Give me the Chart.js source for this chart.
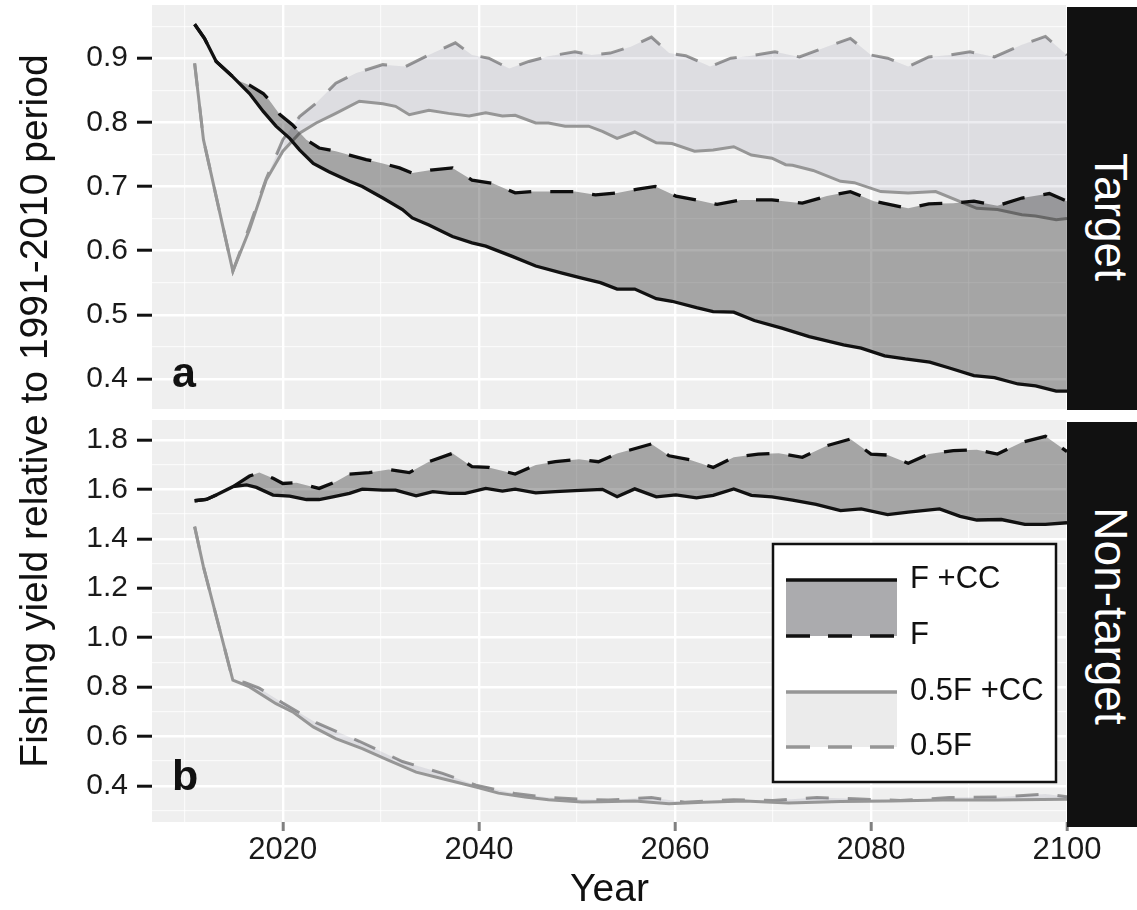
<!DOCTYPE html>
<html>
<head>
<meta charset="utf-8">
<script src="https://cdn.jsdelivr.net/npm/chart.js@4.4.1/dist/chart.umd.min.js"></script>
<style>
  body { margin: 0; background: #fff; }
  #fig { position: relative; width: 1137px; height: 910px; font-family: "Liberation Sans", Arial, Helvetica, sans-serif; color: #111; }
  #cTarget { position: absolute; left: 0; top: 0; }
  #cNon { position: absolute; left: 0; top: 414px; }
  #ytitle { position: absolute; left: -346.5px; top: 389px; width: 760px; height: 44px; line-height: 44px;
            font-size: 39px; text-align: center; white-space: nowrap; transform: rotate(-90deg); }
  .strip { position: absolute; left: 1067px; width: 70px; background: #111; }
  .strip span { position: absolute; left: -106px; width: 300px; height: 50px; line-height: 50px; font-size: 46px;
                color: #fff; text-align: center; white-space: nowrap; transform: rotate(90deg); }
</style>
</head>
<body>
<div id="fig">
  <canvas id="cTarget" width="1137" height="414"></canvas>
  <canvas id="cNon" width="1137" height="496"></canvas>
  <div id="ytitle">Fishing yield relative to 1991-2010 period</div>
  <div class="strip" style="top:7px;height:403px"><span style="top:185px">Target</span></div>
  <div class="strip" style="top:422px;height:405px"><span style="top:169px">Non-target</span></div>
</div>
<script>
// [year, value]
// panel a: target species
const targetFCC = [[2011,0.953],[2012,0.931],[2013.2,0.895],[2014.7,0.874],[2016.6,0.845],[2018,0.817],[2019.3,0.794],[2020.7,0.775],[2021.7,0.757],[2023.1,0.736],[2024.7,0.723],[2026.8,0.708],[2028.1,0.700],[2030.2,0.682],[2032.2,0.664],[2033.2,0.651],[2034.9,0.640],[2037.3,0.622],[2039.3,0.612],[2040.7,0.607],[2043.4,0.591],[2045.8,0.576],[2048.5,0.565],[2050.5,0.557],[2052.4,0.550],[2054.1,0.540],[2055.9,0.540],[2058.1,0.525],[2059.7,0.521],[2062.2,0.511],[2063.9,0.505],[2066,0.504],[2068.1,0.491],[2070.9,0.479],[2073.7,0.466],[2077.2,0.453],[2079,0.448],[2081.4,0.436],[2083.5,0.431],[2086,0.426],[2088,0.417],[2090.5,0.405],[2092.6,0.402],[2095,0.392],[2096.8,0.389],[2098.9,0.381],[2100,0.381]];
const targetF = [[2011,0.953],[2012,0.931],[2013.2,0.895],[2014.7,0.874],[2015.3,0.866],[2016.6,0.858],[2018,0.845],[2018.6,0.835],[2019.7,0.812],[2021,0.796],[2022.4,0.773],[2023.7,0.760],[2025.4,0.755],[2026.8,0.749],[2028.5,0.742],[2030.2,0.736],[2031.9,0.729],[2033.2,0.721],[2035.3,0.726],[2037.3,0.729],[2039.3,0.710],[2041.4,0.705],[2043.7,0.690],[2045.4,0.692],[2047.5,0.692],[2049.8,0.692],[2051.9,0.687],[2054.1,0.690],[2056.2,0.696],[2058,0.700],[2060.1,0.685],[2062.2,0.679],[2064.3,0.672],[2066.7,0.679],[2069.9,0.679],[2073,0.674],[2075.5,0.685],[2077.9,0.692],[2080.3,0.677],[2083.8,0.666],[2085.9,0.673],[2088.4,0.674],[2090.5,0.677],[2092.9,0.670],[2095.4,0.682],[2098.2,0.689],[2100,0.677]];
const targetHalfFCC = [[2011,0.892],[2011.9,0.773],[2014.9,0.568],[2016.6,0.633],[2018.3,0.710],[2020,0.755],[2021.7,0.783],[2023.4,0.799],[2025.4,0.814],[2027.8,0.833],[2030.2,0.829],[2031.5,0.825],[2032.9,0.812],[2034.9,0.819],[2036.9,0.814],[2039,0.810],[2040.7,0.815],[2042.4,0.810],[2043.7,0.811],[2045.8,0.799],[2047.1,0.799],[2048.8,0.794],[2051.2,0.794],[2052.6,0.786],[2054.1,0.775],[2055.9,0.785],[2058.1,0.768],[2059.7,0.767],[2062,0.755],[2063.9,0.757],[2066,0.762],[2067.8,0.749],[2069.9,0.744],[2071.3,0.734],[2072,0.733],[2074.1,0.725],[2076.9,0.708],[2078.3,0.706],[2081,0.692],[2083.8,0.690],[2086.6,0.692],[2089.8,0.672],[2090.8,0.666],[2092.9,0.664],[2095.4,0.656],[2096.8,0.654],[2098.9,0.648],[2100,0.650]];
const targetHalfF = [[2011,0.892],[2011.9,0.773],[2014.9,0.568],[2016.6,0.638],[2018.3,0.712],[2020,0.773],[2021.7,0.809],[2023.4,0.830],[2025.4,0.861],[2027.5,0.877],[2030.2,0.890],[2032.5,0.887],[2034.6,0.903],[2037.6,0.924],[2039.3,0.905],[2041,0.900],[2043.1,0.884],[2045.1,0.895],[2047.1,0.903],[2049.8,0.910],[2051.5,0.905],[2053.4,0.908],[2055.5,0.918],[2057.6,0.933],[2059.4,0.908],[2061.1,0.904],[2063.6,0.887],[2065.7,0.900],[2067.8,0.904],[2070.2,0.910],[2072.7,0.902],[2075.5,0.918],[2077.9,0.931],[2080,0.905],[2081.7,0.900],[2083.8,0.887],[2085.9,0.902],[2088,0.905],[2090.1,0.910],[2092.6,0.902],[2095.4,0.921],[2097.8,0.934],[2100,0.905]];

// panel b: non-target species
const nonFCC = [[2011,1.554],[2012.2,1.559],[2013.2,1.577],[2014.9,1.611],[2016.3,1.618],[2017.3,1.608],[2019,1.577],[2020.7,1.573],[2022.4,1.559],[2023.7,1.559],[2025.1,1.570],[2026.8,1.584],[2028.1,1.601],[2030.2,1.597],[2031.5,1.597],[2033.6,1.574],[2035.3,1.591],[2037,1.584],[2038.6,1.584],[2040.7,1.604],[2042.4,1.593],[2043.7,1.601],[2045.8,1.586],[2047.8,1.591],[2049.8,1.595],[2051.5,1.598],[2052.6,1.600],[2054.1,1.570],[2055.9,1.602],[2058.1,1.570],[2060.1,1.578],[2062.2,1.566],[2063.9,1.576],[2066,1.602],[2067.8,1.576],[2069.9,1.570],[2072,1.557],[2074.4,1.539],[2076.9,1.514],[2079,1.521],[2081.7,1.498],[2083.8,1.508],[2087,1.521],[2089.1,1.491],[2090.8,1.476],[2093.3,1.478],[2095.7,1.458],[2097.8,1.458],[2100,1.465]];
const nonF = [[2011,1.554],[2012.2,1.559],[2013.2,1.577],[2014.9,1.611],[2016.6,1.654],[2017.6,1.668],[2019,1.645],[2020,1.624],[2021.4,1.627],[2023.7,1.604],[2025.4,1.631],[2026.8,1.662],[2028.8,1.668],[2030.8,1.681],[2032.9,1.668],[2034.9,1.712],[2037.3,1.746],[2039.3,1.692],[2041,1.689],[2043.7,1.662],[2045.8,1.699],[2047.8,1.712],[2050.2,1.722],[2052.2,1.712],[2054.1,1.745],[2057.6,1.784],[2059.4,1.736],[2061.5,1.720],[2063.9,1.689],[2066,1.730],[2068.5,1.743],[2070.6,1.746],[2073,1.730],[2075.5,1.777],[2077.9,1.804],[2080,1.743],[2081.7,1.739],[2083.8,1.706],[2085.9,1.743],[2088.4,1.757],[2090.8,1.761],[2092.9,1.743],[2095.4,1.791],[2097.8,1.815],[2100,1.753]];
const nonHalfFCC = [[2011,1.449],[2011.9,1.286],[2014.9,0.827],[2016.6,0.800],[2019.3,0.732],[2021,0.699],[2023.1,0.638],[2025.4,0.591],[2028.1,0.550],[2030.8,0.503],[2033.6,0.455],[2036.3,0.428],[2039.7,0.395],[2042,0.370],[2044.7,0.354],[2047.1,0.343],[2050.5,0.334],[2052.4,0.335],[2055.9,0.338],[2059.4,0.327],[2062.9,0.333],[2067.1,0.338],[2071.6,0.330],[2076.9,0.336],[2082.1,0.338],[2087.3,0.342],[2092.6,0.342],[2100,0.345]];
const nonHalfF = [[2011,1.449],[2011.9,1.286],[2014.9,0.827],[2016.1,0.818],[2017.6,0.795],[2020,0.735],[2023.4,0.655],[2027.8,0.580],[2032.2,0.498],[2036.3,0.450],[2039.7,0.402],[2043.7,0.368],[2047.1,0.352],[2050.5,0.345],[2053.2,0.342],[2057.6,0.352],[2061,0.333],[2066,0.343],[2070,0.340],[2074.5,0.352],[2078.3,0.347],[2083,0.340],[2088,0.352],[2093,0.354],[2097.8,0.366],[2100,0.355]];

// axis ticks
const xMajorYears = [2020, 2040, 2060, 2080, 2100];
const xMinorYears = [2010, 2030, 2050, 2070, 2090];
const targetTicks = [0.4, 0.5, 0.6, 0.7, 0.8, 0.9];
const targetMinorTicks = [0.45, 0.55, 0.65, 0.75, 0.85, 0.95];
const nonTargetTicks = [0.4, 0.6, 0.8, 1.0, 1.2, 1.4, 1.6, 1.8];
const nonTargetMinorTicks = [0.3, 0.5, 0.7, 0.9, 1.1, 1.3, 1.5, 1.7];

const legendLabels = ['F +CC', 'F', '0.5F +CC', '0.5F'];

const NON_TOP = 414; // page offset of the lower canvas
const DARK_FILL = 'rgba(0,0,0,0.31)';
const LIGHT_FILL = 'rgba(40,40,90,0.09)';
const GREY = '#969696';
const DASH = [23, 19];
const FONT = '"Liberation Sans", Arial, Helvetica, sans-serif';

Chart.defaults.font.family = FONT;
Chart.defaults.color = '#1a1a1a';

function toPoints(rows) {
    return rows.map(r => ({ x: r[0], y: r[1] }));
}

function tickList(major, minor) {
    return major.map(v => ({ value: v, major: true }))
        .concat(minor.map(v => ({ value: v, major: false })))
        .sort((a, b) => a.value - b.value);
}

// datasets are painted last-to-first, each fill just before its own line:
// grey dashed, light ribbon, grey solid, black dashed, dark ribbon, black solid
function makeDatasets(fcc, f, halfFcc, halfF) {
    return [
        { data: toPoints(fcc), borderColor: '#111', borderWidth: 3.3, fill: '+1', backgroundColor: DARK_FILL },
        { data: toPoints(f), borderColor: '#111', borderWidth: 3.3, borderDash: DASH, fill: false },
        { data: toPoints(halfFcc), borderColor: GREY, borderWidth: 3, fill: '+1', backgroundColor: LIGHT_FILL },
        { data: toPoints(halfF), borderColor: GREY, borderWidth: 3, borderDash: DASH, fill: false }
    ].map(d => Object.assign({ pointRadius: 0, tension: 0 }, d));
}

const gridColor = ctx => ctx.tick && ctx.tick.major ? '#ffffff' : 'rgba(255,255,255,0.7)';
const gridWidth = ctx => ctx.tick && ctx.tick.major ? 2.4 : 1.2;

// panel background
const panelBg = {
    id: 'panelBg',
    beforeDraw(chart) {
        const { ctx, chartArea: a } = chart;
        ctx.save();
        ctx.fillStyle = '#efefef';
        ctx.fillRect(a.left, a.top, a.right - a.left, a.bottom - a.top);
        ctx.restore();
    }
};

// bold panel letter in the lower left corner
const panelTag = {
    id: 'panelTag',
    afterDatasetsDraw(chart, args, opts) {
        const { ctx, chartArea: a } = chart;
        ctx.save();
        ctx.font = 'bold 43px ' + FONT;
        ctx.fillStyle = '#111';
        ctx.textBaseline = 'alphabetic';
        ctx.fillText(opts.text, a.left + 20, a.bottom - opts.lift);
        ctx.restore();
    }
};

// ribbon legend drawn in the lower panel
const ribbonLegend = {
    id: 'ribbonLegend',
    afterDraw(chart) {
        const ctx = chart.ctx;
        ctx.save();
        ctx.translate(0, -NON_TOP);
        ctx.fillStyle = '#fff';
        ctx.fillRect(773, 544, 283, 238);
        ctx.lineWidth = 2.5;
        ctx.strokeStyle = '#111';
        ctx.strokeRect(773, 544, 283, 238);

        const keys = [
            { top: 580, bottom: 636, fill: 'rgba(0,0,10,0.33)', line: '#111', labels: [legendLabels[0], legendLabels[1]] },
            { top: 692, bottom: 747, fill: 'rgba(0,0,0,0.08)', line: GREY, labels: [legendLabels[2], legendLabels[3]] }
        ];
        keys.forEach(k => {
            ctx.fillStyle = k.fill;
            ctx.fillRect(786, k.top, 111, k.bottom - k.top);
            ctx.strokeStyle = k.line;
            ctx.lineWidth = 3.3;
            ctx.setLineDash([]);
            ctx.beginPath(); ctx.moveTo(786, k.top); ctx.lineTo(897, k.top); ctx.stroke();
            ctx.setLineDash([24, 18]);
            ctx.beginPath(); ctx.moveTo(786, k.bottom); ctx.lineTo(897, k.bottom); ctx.stroke();
            ctx.setLineDash([]);
            ctx.fillStyle = '#111';
            ctx.font = '31px ' + FONT;
            ctx.textBaseline = 'middle';
            ctx.fillText(k.labels[0], 910, k.top - 1);
            ctx.fillText(k.labels[1], 910, k.bottom - 1);
        });
        ctx.restore();
    }
};

function yAxis(min, max, major, minor) {
    return {
        type: 'linear', min: min, max: max,
        afterBuildTicks: s => { s.ticks = tickList(major, minor); },
        afterFit: s => { s.width = 152; s.paddingTop = 0; s.paddingBottom = 0; },
        ticks: {
            autoSkip: false, padding: 9, font: { size: 30 },
            callback: v => major.includes(v) ? v.toFixed(1) : ''
        },
        grid: {
            color: gridColor, lineWidth: gridWidth,
            tickLength: 15, tickWidth: 3,
            tickColor: ctx => ctx.tick && ctx.tick.major ? '#111' : 'rgba(0,0,0,0)'
        },
        border: { display: false }
    };
}

const baseOptions = {
    responsive: false,
    animation: false,
    events: [],
    plugins: {
        legend: { display: false },
        tooltip: { enabled: false }
    }
};

// panel a
new Chart(document.getElementById('cTarget'), {
    type: 'line',
    data: { datasets: makeDatasets(targetFCC, targetF, targetHalfFCC, targetHalfF) },
    options: Object.assign({}, baseOptions, {
        layout: { padding: { top: 5, bottom: 5, left: 0, right: 70 } },
        plugins: Object.assign({}, baseOptions.plugins, { panelTag: { text: 'a', lift: 22 } }),
        scales: {
            x: {
                type: 'linear', min: 2006.65, max: 2100,
                afterBuildTicks: s => { s.ticks = tickList(xMajorYears, xMinorYears); },
                afterFit: s => { s.height = 0; },
                ticks: { display: false },
                grid: { color: gridColor, lineWidth: gridWidth, drawTicks: false },
                border: { display: false }
            },
            y: yAxis(0.353, 0.983, targetTicks, targetMinorTicks)
        }
    }),
    plugins: [panelBg, panelTag]
});

// panel b
new Chart(document.getElementById('cNon'), {
    type: 'line',
    data: { datasets: makeDatasets(nonFCC, nonF, nonHalfFCC, nonHalfF) },
    options: Object.assign({}, baseOptions, {
        layout: { padding: { top: 6, bottom: 0, left: 0, right: 70 } },
        plugins: Object.assign({}, baseOptions.plugins, { panelTag: { text: 'b', lift: 32 } }),
        scales: {
            x: {
                type: 'linear', min: 2006.65, max: 2100,
                afterBuildTicks: s => { s.ticks = tickList(xMajorYears, xMinorYears); },
                afterFit: s => { s.height = 88; s.paddingLeft = 0; s.paddingRight = 0; },
                ticks: {
                    autoSkip: false, maxRotation: 0, padding: 1, font: { size: 31 },
                    callback: v => xMajorYears.includes(v) ? String(v) : ''
                },
                grid: {
                    color: gridColor, lineWidth: gridWidth,
                    tickLength: 9, tickWidth: 3,
                    tickColor: ctx => ctx.tick && ctx.tick.major ? '#808080' : 'rgba(0,0,0,0)'
                },
                border: { display: false },
                title: { display: true, text: 'Year', color: '#111', font: { size: 39, lineHeight: 1 }, padding: { top: 0, bottom: 0 } }
            },
            y: yAxis(0.253, 1.881, nonTargetTicks, nonTargetMinorTicks)
        }
    }),
    plugins: [panelBg, panelTag, ribbonLegend]
});
</script>
</body>
</html>
